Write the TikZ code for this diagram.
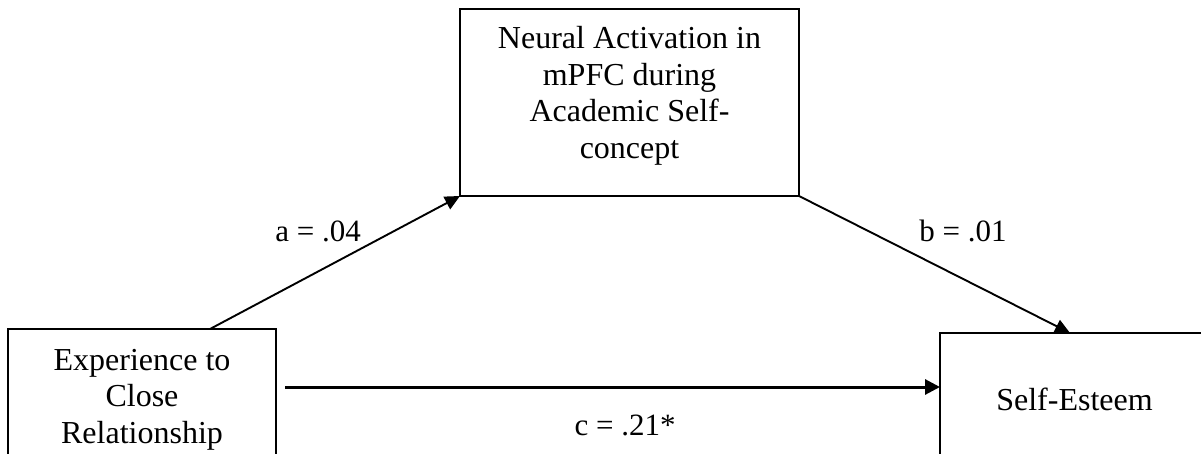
\documentclass[tikz,border=0pt]{standalone}
\usepackage{fontspec}
\setmainfont{Liberation Serif}
\usetikzlibrary{arrows.meta,calc}
\begin{document}
\begin{tikzpicture}[x=1pt,y=-1pt,
  box/.style={draw=black,line width=2pt,rectangle,inner sep=0pt,outer sep=0pt},
  txt/.style={font=\fontsize{32}{36.5}\selectfont,align=center,inner sep=0pt,anchor=base},
  lbl/.style={font=\fontsize{31}{36}\selectfont,inner sep=0pt,anchor=base},
  arr/.style={line width=1.9pt,-{Triangle[length=15pt,width=14pt]}},
  arrc/.style={line width=3pt,-{Triangle[length=15pt,width=15pt]}}]
\useasboundingbox (0,0) rectangle (1201,454);
\clip (0,0) rectangle (1201,454);
% boxes
\node[box,minimum width=339pt,minimum height=187pt] (M) at (629.5,102.5) {};
\node[box,minimum width=268pt,minimum height=141pt] (L) at (142,399.5) {};
\node[box,minimum width=269pt,minimum height=140pt] (R) at (1074.5,403) {};
% box texts (base anchor = last line's baseline)
\node[txt] (Mt) at (629.5,158.5) {Neural Activation in\\mPFC during\\Academic Self-\\concept};
\node[txt] (Lt) at (142,443) {Experience to\\Close\\Relationship};
\node[txt] (Rt) at (1074.5,410) {Self-Esteem};
% connectors
\coordinate (as) at (210,329);
\coordinate (be) at (1070,333);
\coordinate (cs) at (285,387);
\draw[arr] (as) -- (M.south west);
\draw[arr] (M.south east) -- (be);
\draw[arrc] (cs) -- (cs -| R.west);
% labels
\node[lbl] (la) at (318,242) {a = .04};
\node[lbl] (lb) at (963,242) {b = .01};
\node[lbl] (lc) at (625,435) {c = .21*};
\end{tikzpicture}
\end{document}
